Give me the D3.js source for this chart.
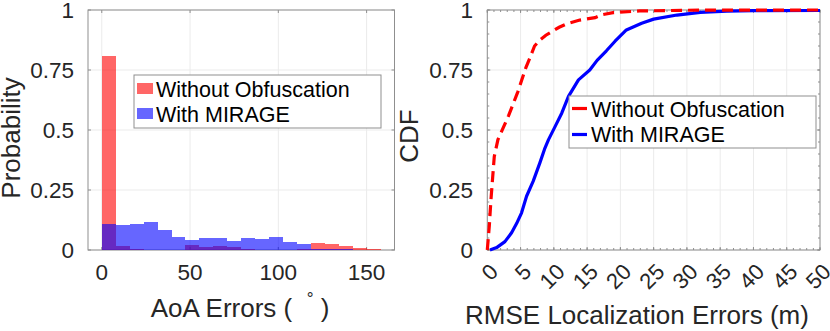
<!DOCTYPE html>
<html>
<head>
<meta charset="utf-8">
<script src="https://cdn.jsdelivr.net/npm/d3@7"></script>
<style>
  body { margin: 0; background: #fff; }
  svg { display: block; font-family: "Liberation Sans", Arial, Helvetica, sans-serif; }
</style>
</head>
<body>
<svg id="chart" width="830" height="331"></svg>
<script>
// ---- left panel: AoA error histograms (probability per bin) ----
var binStarts = [0, 7.9, 15.8, 23.7, 31.6, 39.5, 47.4, 55.3, 63.2, 71.1,
                 79, 86.9, 94.8, 102.7, 110.6, 118.5, 126.4, 134.3, 142.2, 150.1];
var binWidth = 7.9;
var histNoObf = [0.81, 0.018, 0.003, 0.002, 0.002, 0.002, 0.021, 0.013, 0.018, 0.011,
                 0.003, 0.002, 0.002, 0.002, 0.006, 0.028, 0.025, 0.018, 0.01, 0.004];
var histMirage = [0.11, 0.104, 0.11, 0.117, 0.083, 0.053, 0.04, 0.048, 0.05, 0.036,
                  0.048, 0.046, 0.053, 0.035, 0.025, 0.004, 0.003, 0.003, 0, 0];
var aoaTicks = [0, 50, 100, 150];
var probTicks = [0, 0.25, 0.5, 0.75, 1];

// ---- right panel: CDF of RMSE localization errors [x (m), cdf] ----
var cdfNoObf = [[0, 0], [0.3, 0.1], [0.55, 0.21], [0.8, 0.3], [1.05, 0.39], [1.6, 0.46],
  [2.4, 0.51], [3.2, 0.56], [3.9, 0.61], [4.6, 0.66], [5.2, 0.71], [5.8, 0.76],
  [6.4, 0.8], [7.1, 0.85], [7.9, 0.875], [8.8, 0.895], [9.7, 0.91], [10.8, 0.928],
  [11.9, 0.942], [13.9, 0.958], [16.2, 0.968], [17.2, 0.98], [18.9, 0.989],
  [22.9, 0.996], [30, 0.999], [50, 1]];
var cdfMirage = [[0.4, 0], [1.4, 0.01], [2.65, 0.035], [3.65, 0.072], [4.4, 0.11],
  [5.15, 0.155], [5.9, 0.224], [6.9, 0.287], [7.9, 0.363], [8.6, 0.42], [9.2, 0.46],
  [10.2, 0.515], [11.2, 0.571], [12.2, 0.64], [13.7, 0.709], [15.4, 0.75], [16.5, 0.79],
  [17.9, 0.83], [19.2, 0.87], [20.9, 0.917], [23.2, 0.945], [25, 0.962], [28.5, 0.979],
  [32, 0.99], [36, 0.995], [40, 0.997], [50, 0.998]];
var rmseTicks = [0, 5, 10, 15, 20, 25, 30, 35, 40, 45, 50];
var cdfTicks = [0, 0.25, 0.5, 0.75, 1];

var seriesNames = ["Without Obfuscation", "With MIRAGE"];

var txt = "#262626", axisCol = "#8f8f8f", gridCol = "#ebebeb";
var svg = d3.select("#chart");

// draws box, grid, and inward ticks on all four sides
function frame(g, x, y, xt, yt, xMinor, yMinor) {
  let [x0, x1] = x.range(), [y0, y1] = y.range();
  g.selectAll(".gx").data(xt).enter().append("line")
    .attr("x1", d => x(d)).attr("x2", d => x(d)).attr("y1", y0).attr("y2", y1)
    .style("stroke", gridCol);
  g.selectAll(".gy").data(yt).enter().append("line")
    .attr("y1", d => y(d)).attr("y2", d => y(d)).attr("x1", x0).attr("x2", x1)
    .style("stroke", gridCol);
  let ticks = g.append("g").style("stroke", axisCol);
  function tk(vals, len) {
    vals.forEach(function(v) {
      ticks.append("line").attr("x1", x(v)).attr("x2", x(v)).attr("y1", y0).attr("y2", y0 - len);
      ticks.append("line").attr("x1", x(v)).attr("x2", x(v)).attr("y1", y1).attr("y2", y1 + len);
    });
  }
  function tky(vals, len) {
    vals.forEach(function(v) {
      ticks.append("line").attr("y1", y(v)).attr("y2", y(v)).attr("x1", x0).attr("x2", x0 + len);
      ticks.append("line").attr("y1", y(v)).attr("y2", y(v)).attr("x1", x1).attr("x2", x1 - len);
    });
  }
  tk(xt, 3); tky(yt, 3);
  if (xMinor) tk(xMinor, 2);
  if (yMinor) tky(yMinor, 2);
  g.append("rect").attr("x", x0).attr("y", y1).attr("width", x1 - x0).attr("height", y0 - y1)
    .style("fill", "none").style("stroke", axisCol);
}

// ================= left panel =================
var xL = d3.scaleLinear().domain([-7.8, 165.8]).range([88, 394.5]);
var yL = d3.scaleLinear().domain([0, 1]).range([250, 10]);
var left = svg.append("g");

frame(left, xL, yL, aoaTicks, probTicks);

left.selectAll(".barR").data(histNoObf).enter().append("rect")
  .attr("x", (d, i) => xL(binStarts[i]))
  .attr("width", (d, i) => xL(binStarts[i] + binWidth) - xL(binStarts[i]))
  .attr("y", d => yL(d)).attr("height", d => yL(0) - yL(d))
  .attr("shape-rendering", "crispEdges")
  .style("fill", "#ff0000").style("fill-opacity", 0.6);
left.selectAll(".barB").data(histMirage).enter().append("rect")
  .attr("x", (d, i) => xL(binStarts[i]))
  .attr("width", (d, i) => xL(binStarts[i] + binWidth) - xL(binStarts[i]))
  .attr("y", d => yL(d)).attr("height", d => yL(0) - yL(d))
  .attr("shape-rendering", "crispEdges")
  .style("fill", "#0000ff").style("fill-opacity", 0.6);

left.selectAll(".tx").data(aoaTicks).enter().append("text")
  .attr("x", d => xL(d)).attr("y", 280).attr("text-anchor", "middle")
  .attr("font-size", 22.5).style("fill", txt).text(d => d);
left.selectAll(".ty").data(probTicks).enter().append("text")
  .attr("x", 74).attr("y", d => yL(d)).attr("dy", "0.36em").attr("text-anchor", "end")
  .attr("font-size", 22.5).style("fill", txt).text(d => d);

var xlab = left.append("text").attr("x", 240).attr("y", 317).attr("text-anchor", "middle")
  .attr("font-size", 26).style("fill", txt);
xlab.append("tspan").text("AoA Errors (\u00A0\u00A0");
xlab.append("tspan").attr("dy", -13).attr("font-size", 17).text("\u00B0");
xlab.append("tspan").attr("dy", 13).text("\u00A0)");

left.append("text").attr("transform", "translate(20,138) rotate(-90)")
  .attr("text-anchor", "middle").attr("font-size", 26).style("fill", txt).text("Probability");

// legend
var legL = left.append("g");
legL.append("rect").attr("x", 134).attr("y", 75).attr("width", 247).attr("height", 53)
  .style("fill", "#fff").style("stroke", axisCol);
[["#ff0000", 83], ["#0000ff", 108]].forEach(function(s, i) {
  legL.append("rect").attr("x", 137).attr("y", s[1]).attr("width", 16).attr("height", 11)
    .style("fill", s[0]).style("fill-opacity", 0.6);
  legL.append("text").attr("x", 156).attr("y", 97 + i * 25).attr("font-size", 21.5)
    .style("fill", "#000").text(seriesNames[i]);
});

// ================= right panel =================
var xR = d3.scaleLinear().domain([0, 50]).range([487.3, 820]);
var yR = d3.scaleLinear().domain([0, 1]).range([250, 10]);
var right = svg.append("g");

frame(right, xR, yR, rmseTicks, cdfTicks, d3.range(0, 51, 1), d3.range(0, 1.001, 0.05));

var line = d3.line().x(d => xR(d[0])).y(d => yR(d[1]));
right.append("path").datum(cdfMirage).attr("d", line)
  .style("fill", "none").style("stroke", "#0000ff").style("stroke-width", 3.2)
  .style("stroke-linejoin", "round");
right.append("path").datum(cdfNoObf).attr("d", line)
  .style("fill", "none").style("stroke", "#ff0000").style("stroke-width", 3.2)
  .style("stroke-dasharray", "11,6");

right.selectAll(".tx").data(rmseTicks).enter().append("text")
  .attr("transform", d => "translate(" + (xR(d) + 1) + ",262) rotate(-45)")
  .attr("dy", "0.72em").attr("text-anchor", "end")
  .attr("font-size", 22).style("fill", txt).text(d => d);
right.selectAll(".ty").data(cdfTicks).enter().append("text")
  .attr("x", 473).attr("y", d => yR(d)).attr("dy", "0.36em").attr("text-anchor", "end")
  .attr("font-size", 22.5).style("fill", txt).text(d => d);

right.append("text").attr("x", 637).attr("y", 324).attr("text-anchor", "middle")
  .attr("font-size", 26).style("fill", txt).text("RMSE Localization Errors (m)");
right.append("text").attr("transform", "translate(418,136) rotate(-90)")
  .attr("text-anchor", "middle").attr("font-size", 26).style("fill", txt).text("CDF");

var legR = right.append("g");
legR.append("rect").attr("x", 569).attr("y", 96).attr("width", 247).attr("height", 52)
  .style("fill", "#fff").style("stroke", axisCol);
[["#ff0000", 108.5], ["#0000ff", 134.5]].forEach(function(s, i) {
  legR.append("line").attr("x1", 572).attr("x2", 587).attr("y1", s[1]).attr("y2", s[1])
    .style("stroke", s[0]).style("stroke-width", 3.2);
  legR.append("text").attr("x", 591).attr("y", 117 + i * 25).attr("font-size", 21.5)
    .style("fill", "#000").text(seriesNames[i]);
});
</script>
</body>
</html>
